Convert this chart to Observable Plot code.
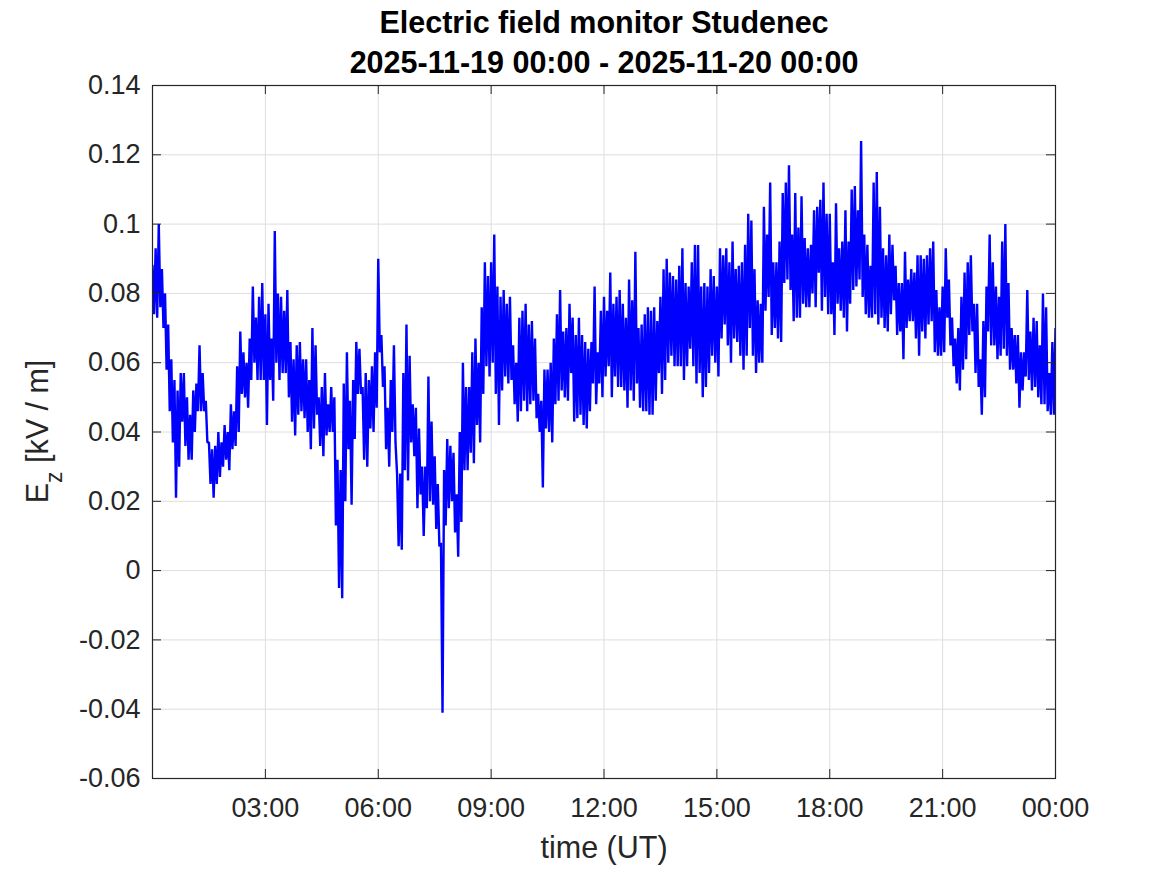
<!DOCTYPE html>
<html>
<head>
<meta charset="utf-8">
<script src="https://cdn.jsdelivr.net/npm/d3@7"></script>
<script src="https://cdn.jsdelivr.net/npm/@observablehq/plot@0.6"></script>
<style>
  html, body { margin: 0; padding: 0; background: #fff; }
  #chart { width: 1167px; height: 875px; }
</style>
</head>
<body>
<div id="chart"></div>
<script>
const titleLine1 = "Electric field monitor Studenec";
const titleLine2 = "2025-11-19 00:00 - 2025-11-20 00:00";
const xLabel = "time (UT)";
const startISO = "2025-11-19T00:00:00Z";
const endISO = "2025-11-20T00:00:00Z";
const stepMinutes = 5;
const xTickHours = [3, 6, 9, 12, 15, 18, 21, 24];
const yTicks = [-0.06, -0.04, -0.02, 0, 0.02, 0.04, 0.06, 0.08, 0.1, 0.12, 0.14];

// upper and lower excursions of E_z (kV/m) in each 5-minute slot
const hi = [
  .088,.093,.100,.087,.080,.071,.061,.055,.052,.057,
  .057,.050,.045,.052,.054,.065,.057,.049,.037,.035,
  .036,.040,.037,.042,.040,.048,.046,.059,.069,.063,
  .060,.067,.082,.073,.079,.083,.074,.077,.067,.098,
  .080,.079,.075,.081,.066,.061,.065,.066,.061,.061,
  .055,.070,.065,.050,.053,.057,.048,.053,.050,.032,
  .029,.054,.063,.049,.055,.066,.064,.053,.057,.055,
  .059,.063,.090,.068,.059,.047,.055,.065,.028,.028,
  .057,.071,.062,.048,.047,.041,.030,.030,.056,.043,
  .033,.025,.008,.029,.038,.036,.034,.022,.040,.060,
  .053,.053,.063,.067,.060,.076,.089,.085,.089,.097,
  .082,.079,.081,.077,.079,.065,.060,.073,.075,.077,
  .071,.072,.067,.051,.049,.058,.058,.060,.067,.074,
  .081,.069,.070,.077,.073,.068,.073,.068,.066,.064,
  .066,.082,.063,.075,.079,.075,.086,.077,.079,.081,
  .077,.073,.084,.078,.092,.070,.071,.074,.076,.075,
  .076,.072,.079,.087,.090,.086,.085,.084,.088,.093,
  .083,.082,.089,.094,.094,.082,.083,.082,.087,.085,
  .082,.093,.091,.093,.089,.095,.087,.088,.089,.094,
  .103,.101,.087,.078,.077,.105,.097,.112,.089,.089,
  .095,.109,.112,.117,.097,.109,.099,.108,.096,.093,
  .094,.104,.105,.107,.112,.103,.103,.089,.106,.093,
  .095,.104,.095,.110,.111,.104,.124,.097,.094,.088,
  .112,.115,.105,.093,.091,.097,.094,.088,.083,.083,
  .092,.084,.087,.086,.091,.091,.090,.091,.093,.095,
  .081,.076,.082,.093,.084,.073,.067,.070,.079,.086,
  .089,.091,.077,.077,.061,.072,.082,.097,.089,.082,
  .079,.095,.100,.083,.070,.068,.068,.063,.063,.081,
  .069,.073,.072,.065,.080,.076,.057,.066,.070
];
const lo = [
  .074,.073,.076,.070,.058,.046,.037,.021,.030,.043,
  .036,.032,.032,.040,.046,.046,.046,.037,.025,.021,
  .025,.027,.030,.032,.029,.035,.036,.040,.051,.050,
  .047,.055,.060,.055,.055,.055,.042,.055,.049,.060,
  .055,.057,.057,.050,.043,.039,.045,.046,.044,.040,
  .035,.041,.045,.036,.033,.039,.040,.040,.013,-.005,
  -.008,.020,.035,.019,.038,.051,.051,.032,.030,.041,
  .040,.047,.063,.053,.035,.030,.040,.037,.007,.006,
  .029,.026,.037,.033,.018,.022,.010,.018,.020,.019,
  .012,.007,-.041,.013,.018,.020,.011,.004,.014,.029,
  .029,.034,.031,.042,.037,.051,.059,.056,.060,.051,
  .042,.052,.056,.054,.055,.048,.043,.046,.049,.046,
  .048,.049,.044,.040,.024,.041,.040,.037,.048,.049,
  .052,.050,.049,.057,.043,.044,.045,.042,.041,.046,
  .054,.048,.054,.050,.056,.059,.050,.056,.053,.053,
  .052,.047,.052,.049,.054,.047,.046,.046,.045,.045,
  .049,.057,.051,.055,.060,.062,.059,.059,.059,.055,
  .059,.064,.059,.054,.057,.050,.053,.057,.062,.060,
  .056,.067,.071,.065,.060,.067,.066,.062,.058,.062,
  .070,.062,.057,.060,.060,.075,.079,.068,.070,.067,
  .066,.083,.084,.081,.072,.073,.073,.077,.076,.076,
  .080,.076,.086,.075,.079,.074,.074,.068,.077,.075,
  .073,.069,.077,.081,.082,.084,.079,.074,.073,.073,
  .074,.071,.073,.070,.069,.074,.078,.068,.069,.061,
  .070,.072,.072,.067,.062,.069,.067,.071,.072,.063,
  .062,.062,.063,.073,.065,.059,.054,.052,.058,.061,
  .068,.069,.057,.053,.045,.050,.069,.065,.065,.061,
  .062,.064,.062,.058,.058,.054,.047,.052,.056,.055,
  .052,.053,.050,.048,.048,.046,.045,.045,.045
];

const start = new Date(startISO);
const end = new Date(endISO);
const xTicks = xTickHours.map(h => new Date(start.getTime() + h * 3600000));

const series = [];
for (let k = 0; k < hi.length; k++) {
  const t0 = start.getTime() + k * stepMinutes * 60000;
  series.push({t: new Date(t0), v: hi[k]});
  series.push({t: new Date(t0 + stepMinutes * 30000), v: lo[k]});
}

const W = 1167, H = 875;
const mL = 152, mR = 112, mT = 85, mB = 97;
const plotW = W - mL - mR, plotH = H - mT - mB;
const tickLen = 9;
const axisColor = "#262626";
const gridColor = "#dedede";
const font = "'Liberation Sans', Arial, Helvetica, sans-serif";
const fmtY = d => String(d);
const fmtX = d3.utcFormat("%H:%M");

const chart = Plot.plot({
  width: W, height: H,
  marginLeft: mL, marginRight: mR, marginTop: mT, marginBottom: mB,
  style: {fontFamily: font, color: axisColor, background: "#fff", overflow: "visible"},
  x: {type: "utc", domain: [start, end], label: null},
  y: {domain: [yTicks[0], yTicks[yTicks.length - 1]], label: null},
  marks: [
    Plot.gridX(xTicks, {x: d => d, stroke: gridColor, strokeOpacity: 1}),
    Plot.gridY(yTicks, {y: d => d, stroke: gridColor, strokeOpacity: 1}),
    Plot.line(series, {x: "t", y: "v", stroke: "#0000ff", strokeWidth: 2.4, strokeLinejoin: "miter", clip: true}),
    Plot.tickX(xTicks, {x: d => d, stroke: axisColor, insetTop: plotH - tickLen}),
    Plot.tickX(xTicks, {x: d => d, stroke: axisColor, insetBottom: plotH - tickLen}),
    Plot.tickY(yTicks, {y: d => d, stroke: axisColor, insetRight: plotW - tickLen}),
    Plot.tickY(yTicks, {y: d => d, stroke: axisColor, insetLeft: plotW - tickLen}),
    Plot.frame({stroke: axisColor, strokeWidth: 1.2}),
    Plot.axisX(xTicks, {anchor: "bottom", tickSize: 0, tickPadding: 19, fontSize: 27, tickFormat: fmtX, label: null}),
    Plot.axisY(yTicks, {anchor: "left", tickSize: 0, tickPadding: 12, fontSize: 27, tickFormat: fmtY, label: null}),
    Plot.text([xLabel], {frameAnchor: "bottom", lineAnchor: "middle", dy: 70, fontSize: 30.5, fill: axisColor}),
    Plot.text([titleLine1], {frameAnchor: "top", lineAnchor: "middle", dy: -62, fontSize: 30.5, fontWeight: "bold", fill: "#000"}),
    Plot.text([titleLine2], {frameAnchor: "top", lineAnchor: "middle", dy: -22, fontSize: 30.5, fontWeight: "bold", fill: "#000"})
  ]
});

// y-axis label with subscript
const svg = d3.select(chart);
const yl = svg.append("text")
  .attr("transform", `translate(48, ${mT + plotH / 2}) rotate(-90)`)
  .attr("text-anchor", "middle")
  .attr("fill", axisColor)
  .attr("font-size", 30.5)
  .attr("font-family", font);
yl.append("tspan").text("E");
yl.append("tspan").attr("dy", 14).attr("font-size", 23).text("z");
yl.append("tspan").attr("dy", -14).text(" [kV / m]");

document.getElementById("chart").appendChild(chart);
</script>
</body>
</html>
